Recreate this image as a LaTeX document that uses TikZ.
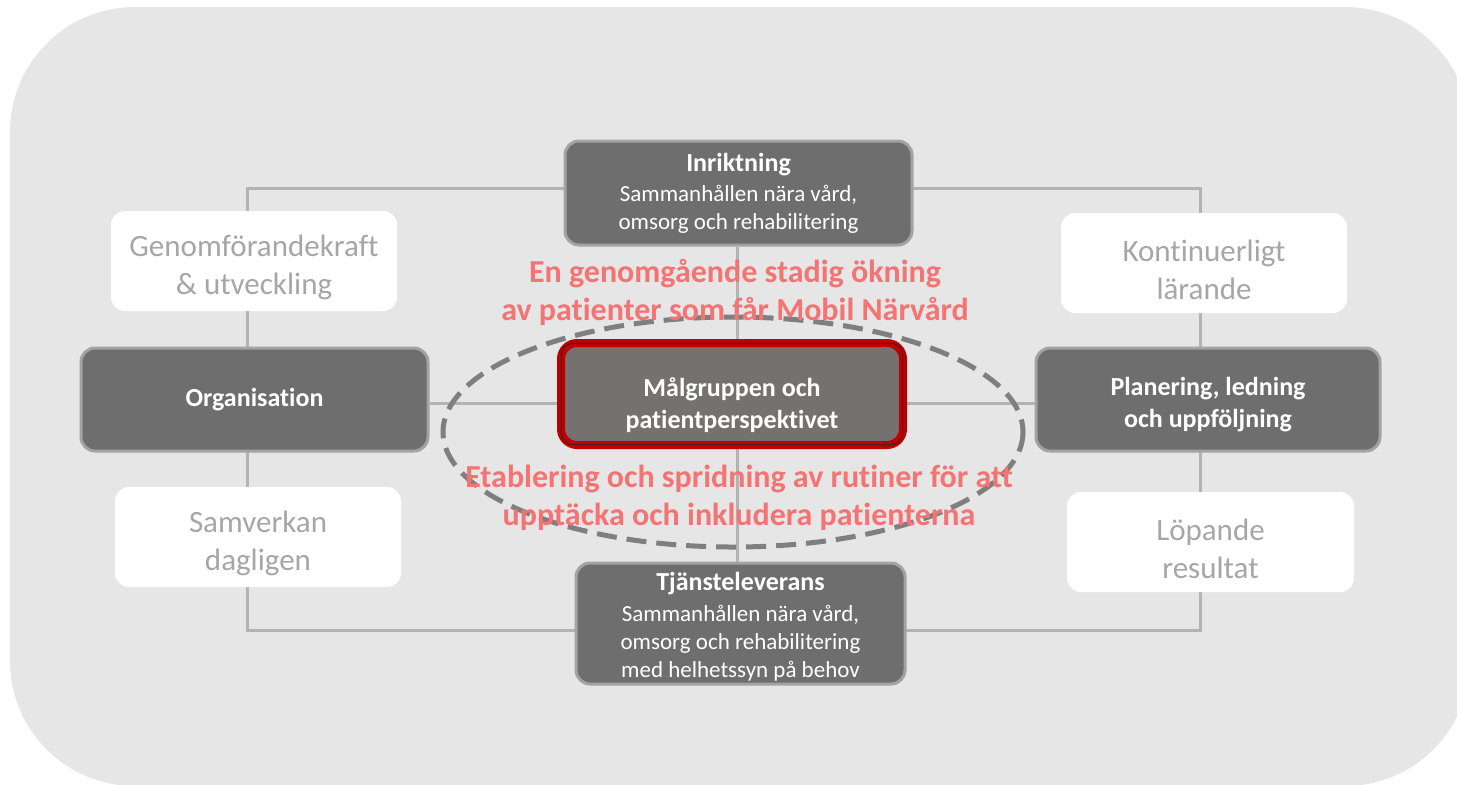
\documentclass[tikz,border=0pt]{standalone}
\usepackage{fontspec}
\setmainfont{Carlito}[Ligatures={NoCommon}]
\definecolor{panel}{HTML}{E6E6E6}
\definecolor{linkgray}{HTML}{B3B3B3}
\definecolor{darkbox}{HTML}{6E6E6E}
\definecolor{darkedge}{HTML}{A3A3A3}
\definecolor{corefill}{HTML}{767171}
\definecolor{corered}{HTML}{C00000}
\definecolor{softtext}{HTML}{A6A6A6}
\definecolor{goaltext}{HTML}{F47373}
\definecolor{ringgray}{HTML}{7F7F7F}
\tikzset{
  link/.style={draw=linkgray, line width=1.5pt},
  darkbox/.style={rectangle, rounded corners=7pt, fill=darkbox, draw=darkedge,
    line width=1.5pt, text=white, align=center, inner sep=0pt},
  titledlabel/.style={text=white, align=center, inner sep=0pt,
    font=\fontsize{11.5}{14}\selectfont},
  softbox/.style={rectangle, rounded corners=7pt, fill=white,
    inner sep=0pt, minimum width=143pt, minimum height=50pt},
  softlabel/.style={text=softtext, align=center, inner sep=0pt, yshift=-3.2pt,
    font=\fontsize{15.5}{19}\selectfont},
  boldlabel/.style={text=white, align=center, inner sep=0pt,
    font=\bfseries\fontsize{13}{16}\selectfont},
  corebox/.style={rectangle, rounded corners=8pt, fill=corefill, draw=corered,
    line width=4pt, inner sep=0pt},
  goal/.style={text=goaltext, align=center, inner sep=0pt,
    font=\bfseries\fontsize{16}{19}\selectfont},
  ring/.style={draw=ringgray, line width=2.5pt, dash pattern=on 10pt off 5pt}
}
\newcommand{\boxtitle}[1]{{\bfseries\fontsize{13}{15}\selectfont #1}}
\begin{document}
\begin{tikzpicture}[x=0.5pt, y=-0.5pt]
  \useasboundingbox (0,0) rectangle (1457,784);
  % background panel, running off the right edge
  \begin{scope}
    \clip (0,0) rectangle (1457,784);
    \fill[panel, rounded corners=62.5pt] (10,7) rectangle (1470,786);
  \end{scope}

  % frame corners and axis positions
  \coordinate (tl) at (247,188);
  \coordinate (br) at (1200,630);
  \coordinate (vx) at (737,0);
  \coordinate (hy) at (0,403);

  % outer frame joining the four side boxes
  \draw[link] (tl) rectangle (br);

  % boxes
  \node[darkbox, minimum width=173.5pt, minimum height=52pt,
        label={[titledlabel]center:{\boxtitle{Inriktning}\\[1pt] Sammanhållen nära vård,\\ omsorg och rehabilitering}}]
        (inr) at (738.5,193) {};
  \node[darkbox, minimum width=164.5pt, minimum height=60.5pt,
        label={[titledlabel, yshift=-1.8pt]center:{\boxtitle{Tjänsteleverans}\\[1.5pt] Sammanhållen nära vård,\\ omsorg och rehabilitering\\ med helhetssyn på behov}}]
        (tjl) at (740.5,623.5) {};
  \node[darkbox, minimum width=173.5pt, minimum height=51.5pt,
        font=\bfseries\fontsize{13}{16}\selectfont] (org) at (254.5,399.5) {Organisation};
  \node[darkbox, minimum width=172pt, minimum height=51.5pt,
        label={[boldlabel, yshift=-2.5pt]center:{Planering, ledning\\ och uppföljning}}]
        (plan) at (1208,399.5) {};

  \node[softbox, label={[softlabel]center:{Genomförandekraft\\ \& utveckling}}] (gen) at (254,261) {};
  \node[softbox, label={[softlabel]center:{Kontinuerligt\\ lärande}}] (kon) at (1204,263) {};
  \node[softbox, label={[softlabel]center:{Samverkan\\ dagligen}}] (sam) at (258,537) {};
  \node[softbox, minimum width=143.5pt, label={[softlabel]center:{Löpande\\ resultat}}] (lop) at (1210.5,542) {};

  % cross through the core
  \draw[link] (vx |- inr.south) -- (vx |- tjl.north);
  \draw[link] (org.east |- hy) -- (plan.west |- hy);

  \node[corebox, minimum width=171pt, minimum height=51pt,
        label={[boldlabel, yshift=-5.5pt]center:{Målgruppen och\\ patientperspektivet}}]
        (cnt) at (732,394) {};
  \draw[black!85, line width=0.4pt, rounded corners=6pt]
    ([shift={(2.1pt,-2.1pt)}]cnt.north west) rectangle ([shift={(-2.1pt,2.1pt)}]cnt.south east);

  % ring of goals around the core
  \draw[ring] (733,432) ellipse [x radius=290, y radius=115];

  % goals
  \node[goal] (g1) at (735,292) {En genomgående stadig ökning\\ av patienter som får Mobil Närvård};
  \node[goal] (g2) at (739,497.5) {Etablering och spridning av rutiner för att\\ upptäcka och inkludera patienterna};
\end{tikzpicture}
\end{document}
